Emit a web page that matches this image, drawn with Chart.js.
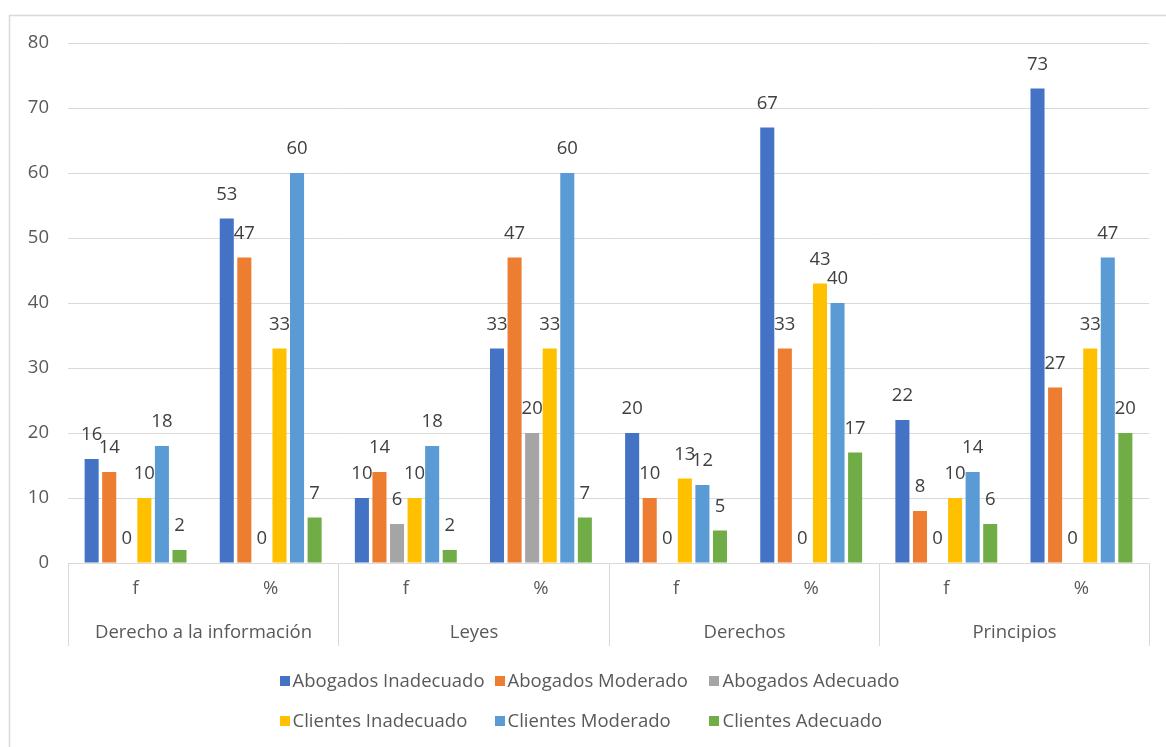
<!DOCTYPE html>
<html>
<head>
<meta charset="utf-8">
<script src="https://cdn.jsdelivr.net/npm/chart.js@4"></script>
<style>
  html, body { margin: 0; padding: 0; background: #ffffff; }
  #wrap { width: 1166px; height: 747px; }
</style>
</head>
<body>
<div id="wrap"><canvas id="c" width="1166" height="747"></canvas></div>
<script>
// Inner axis level (f / %) and outer grouping level
const categories = ['f', '%', 'f', '%', 'f', '%', 'f', '%'];
const groups = ['Derecho a la información', 'Leyes', 'Derechos', 'Principios'];
const yTicks = [0, 10, 20, 30, 40, 50, 60, 70, 80];

// Series values
const abogadosInadecuado = [16, 53, 10, 33, 20, 67, 22, 73];
const abogadosModerado   = [14, 47, 14, 47, 10, 33, 8, 27];
const abogadosAdecuado   = [0, 0, 6, 20, 0, 0, 0, 0];
const clientesInadecuado = [10, 33, 10, 33, 13, 43, 10, 33];
const clientesModerado   = [18, 60, 18, 60, 12, 40, 14, 47];
const clientesAdecuado   = [2, 7, 2, 7, 5, 17, 6, 20];

const seriesNames = ['Abogados Inadecuado', 'Abogados Moderado', 'Abogados Adecuado',
                     'Clientes Inadecuado', 'Clientes Moderado', 'Clientes Adecuado'];
const seriesData = [abogadosInadecuado, abogadosModerado, abogadosAdecuado,
                    clientesInadecuado, clientesModerado, clientesAdecuado];
const seriesColors = ['#4472C4', '#ED7D31', '#A5A5A5', '#FFC000', '#5B9BD5', '#70AD47'];

const FONT = '"Open Sans", Lato, sans-serif';
const SIZE = 18.5;
const TEXT = '#595959';
const LINE = '#D9D9D9';

// Value labels above each bar
const valueLabels = {
  id: 'valueLabels',
  afterDatasetsDraw(chart) {
    const ctx = chart.ctx;
    ctx.save();
    ctx.font = SIZE + 'px ' + FONT;
    ctx.fillStyle = '#404040';
    ctx.textAlign = 'center';
    ctx.textBaseline = 'middle';
    chart.data.datasets.forEach((ds, i) => {
      const meta = chart.getDatasetMeta(i);
      meta.data.forEach((bar, j) => {
        ctx.fillText(String(ds.data[j]), bar.x, bar.y - 24);
      });
    });
    ctx.restore();
  }
};

// Outer category level: group names and separators below the axis
const groupAxis = {
  id: 'groupAxis',
  afterDraw(chart) {
    const ctx = chart.ctx;
    const x = chart.scales.x;
    const area = chart.chartArea;
    const per = categories.length / groups.length;
    const bottom = x.bottom;
    const edges = [];
    for (let g = 0; g <= groups.length; g++) {
      const idx = g * per;
      let px;
      if (idx === 0) px = area.left;
      else if (idx === categories.length) px = area.right;
      else px = (x.getPixelForValue(idx - 1) + x.getPixelForValue(idx)) / 2;
      edges.push(Math.round(px) + 0.5);
    }
    ctx.save();
    ctx.strokeStyle = LINE;
    ctx.lineWidth = 1;
    edges.forEach(px => {
      ctx.beginPath();
      ctx.moveTo(px, area.bottom);
      ctx.lineTo(px, bottom);
      ctx.stroke();
    });
    ctx.font = SIZE + 'px ' + FONT;
    ctx.fillStyle = TEXT;
    ctx.textAlign = 'center';
    ctx.textBaseline = 'middle';
    groups.forEach((name, g) => {
      ctx.fillText(name, (edges[g] + edges[g + 1]) / 2, bottom - 13);
    });
    ctx.restore();
  }
};

// Legend laid out as a two-row grid with aligned columns
const gridLegend = {
  id: 'gridLegend',
  afterDraw(chart) {
    const ctx = chart.ctx;
    ctx.save();
    ctx.font = SIZE + 'px ' + FONT;
    const cols = 3;
    const box = 10, gap = 3, colGap = 10;
    let maxW = 0;
    seriesNames.forEach(n => { maxW = Math.max(maxW, ctx.measureText(n).width); });
    const colW = box + gap + maxW + colGap;
    const total = cols * colW - colGap;
    const centerX = 597;
    const startX = centerX - total / 2;
    const rowY = [chart.scales.x.bottom + 35, chart.scales.x.bottom + 75];
    ctx.textBaseline = 'middle';
    ctx.textAlign = 'left';
    seriesNames.forEach((n, i) => {
      const col = i % cols, row = Math.floor(i / cols);
      const x0 = startX + col * colW;
      const y0 = rowY[row];
      ctx.fillStyle = seriesColors[i];
      ctx.fillRect(Math.round(x0), Math.round(y0 - box / 2), box, box);
      ctx.fillStyle = TEXT;
      ctx.fillText(n, x0 + box + gap, y0 + 1);
    });
    ctx.restore();
  }
};

// Outer chart frame
const frame = {
  id: 'frame',
  beforeDraw(chart) {
    const ctx = chart.ctx;
    ctx.save();
    ctx.fillStyle = '#ffffff';
    ctx.fillRect(0, 0, chart.width, chart.height);
    ctx.strokeStyle = LINE;
    ctx.lineWidth = 1.5;
    ctx.strokeRect(9.5, 15.5, chart.width + 50, chart.height + 50);
    ctx.restore();
  }
};

new Chart(document.getElementById('c'), {
  type: 'bar',
  data: {
    labels: categories,
    datasets: seriesNames.map((name, i) => ({
      label: name,
      data: seriesData[i],
      backgroundColor: seriesColors[i],
      borderWidth: 0,
      barPercentage: 0.8,
      categoryPercentage: 0.78
    }))
  },
  options: {
    responsive: false,
    devicePixelRatio: 1,
    animation: false,
    layout: { padding: { left: 0, right: 17, top: 43, bottom: 101 } },
    plugins: {
      legend: { display: false },
      tooltip: { enabled: false }
    },
    scales: {
      y: {
        min: 0,
        max: 80,
        afterBuildTicks: s => { s.ticks = yTicks.map(v => ({ value: v })); },
        afterFit: s => { s.width = 68; },
        grid: { color: LINE, lineWidth: 1, drawTicks: false },
        border: { display: false },
        ticks: { color: TEXT, font: { family: FONT, size: SIZE }, padding: 19 }
      },
      x: {
        afterFit: s => { s.height = 83; },
        grid: { display: false, drawTicks: false },
        border: { display: true, color: LINE, width: 1 },
        ticks: { color: TEXT, font: { family: FONT, size: SIZE }, padding: 15, maxRotation: 0 }
      }
    }
  },
  plugins: [frame, valueLabels, groupAxis, gridLegend]
});
</script>
</body>
</html>
